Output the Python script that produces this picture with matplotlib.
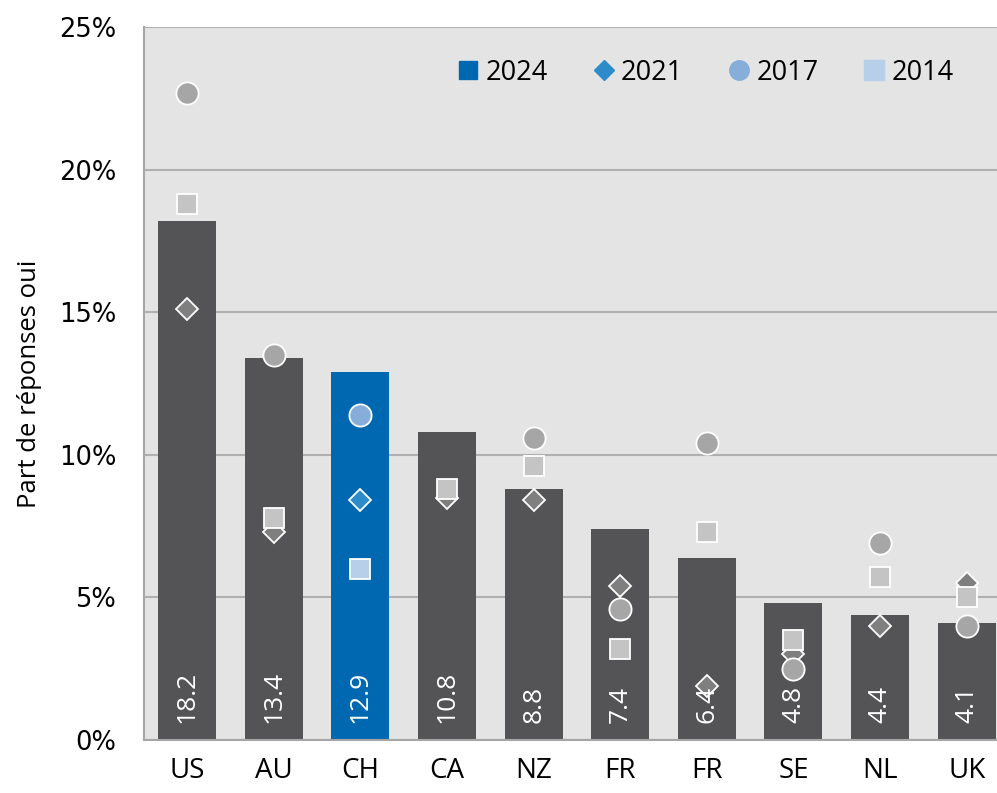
import matplotlib.pyplot as plt
from matplotlib.lines import Line2D
import numpy as np

countries = ['US', 'AU', 'CH', 'CA', 'NZ', 'FR', 'FR', 'SE', 'NL', 'UK']
v2024 = [18.2, 13.4, 12.9, 10.8, 8.8, 7.4, 6.4, 4.8, 4.4, 4.1]
v2021 = [15.1, 7.3, 8.4, 8.5, 8.4, 5.4, 1.9, 3.0, 4.0, 5.5]
v2017 = [22.7, 13.5, 11.4, np.nan, 10.6, 4.6, 10.4, 2.5, 6.9, 4.0]
v2014 = [18.8, 7.8, 6.0, 8.8, 9.6, 3.2, 7.3, 3.5, 5.7, 5.0]
highlight = 'CH'

plt.rcParams['font.family'] = ['Open Sans', 'DejaVu Sans']

fig = plt.figure(figsize=(9.97, 7.93), dpi=100)
ax = fig.add_axes([0.1444, 0.0668, 0.8556, 0.8991])
ax.set_facecolor('#E4E4E4')

x = np.arange(len(countries))
bar_cols = ['#0068B0' if c == highlight else '#545456' for c in countries]
ax.bar(x, v2024, width=0.67, color=bar_cols, zorder=2)

for i, val in enumerate(v2024):
    ax.text(x[i], 0.6, f'{val:.1f}', rotation=90, ha='center', va='bottom',
            color='white', fontsize=19, zorder=5)

# markers: grey on grey bars, blue shades on the highlighted one
styles = [
    (v2021, 'D', 11, '#7F7F7F', '#2E8BC9'),
    (v2017, 'o', 16, '#A6A6A6', '#86AED8'),
    (v2014, 's', 15, '#C4C4C4', '#B8CFEA'),
]
for vals, mk, ms, grey, blue in styles:
    for i, val in enumerate(vals):
        if np.isnan(val):
            continue
        col = blue if countries[i] == highlight else grey
        ax.plot(x[i], val, marker=mk, ms=ms, color=col, mec='white', mew=1.3,
                ls='none', zorder=4)

ax.set_xlim(-0.5, 9.35)
ax.set_ylim(0, 25)
ax.set_yticks(range(0, 26, 5))
ax.set_yticklabels([f'{t}%' for t in range(0, 26, 5)], family='DejaVu Sans',
                   fontsize=18.5)
ax.set_xticks(x)
ax.set_xticklabels(countries, fontsize=20)
ax.tick_params(axis='both', length=0)
ax.tick_params(axis='y', pad=20)
ax.tick_params(axis='x', pad=12)
ax.yaxis.grid(True, color='#B0B0B0', lw=1.5, zorder=1)
ax.set_axisbelow(True)
for s in ['top', 'right']:
    ax.spines[s].set_visible(False)
ax.spines['left'].set_color('#A6A6A6')
ax.spines['bottom'].set_color('#A6A6A6')
ax.spines['left'].set_linewidth(1.5)
ax.spines['bottom'].set_linewidth(1.5)
ax.set_ylabel('Part de réponses oui', fontsize=18.5, labelpad=12)

handles = [
    Line2D([], [], marker='s', ms=13, color='#0068B0', ls='none'),
    Line2D([], [], marker='D', ms=10, color='#2E8BC9', ls='none'),
    Line2D([], [], marker='o', ms=14, color='#86AED8', ls='none'),
    Line2D([], [], marker='s', ms=14, color='#B8CFEA', ls='none'),
]
ax.legend(handles, ['2024', '2021', '2017', '2014'], ncol=4, frameon=False,
          loc='upper right', bbox_to_anchor=(0.978, 0.99), fontsize=19.5,
          handletextpad=0.05, columnspacing=1.45, handlelength=1.2)

fig.savefig('out.png', dpi=100)
